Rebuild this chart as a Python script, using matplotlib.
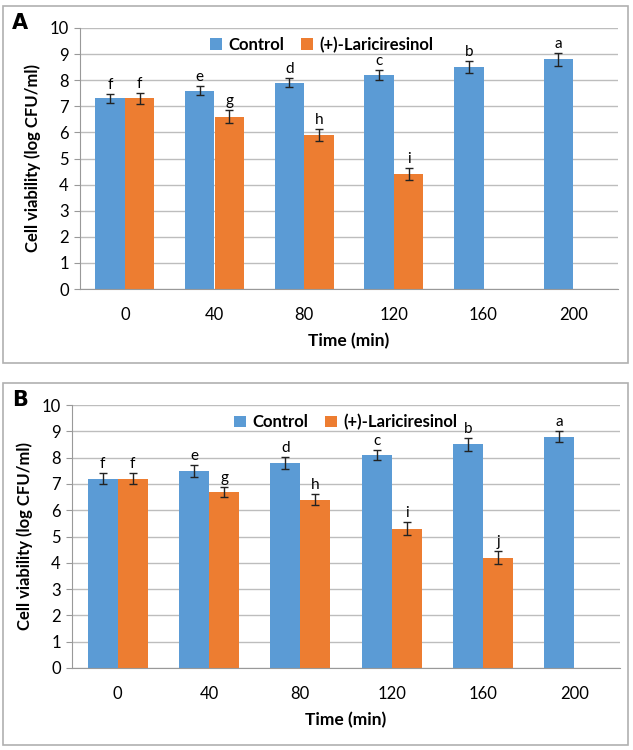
import matplotlib.pyplot as plt
import numpy as np
from matplotlib.patches import Rectangle

times = ['0', '40', '80', '120', '160', '200']

ctrl_a = [7.3, 7.6, 7.9, 8.2, 8.5, 8.8]
ctrl_a_err = [0.18, 0.18, 0.17, 0.2, 0.22, 0.25]
lari_a = [7.3, 6.6, 5.9, 4.4, np.nan, np.nan]
lari_a_err = [0.22, 0.25, 0.22, 0.22, np.nan, np.nan]
ctrl_a_let = ['f', 'e', 'd', 'c', 'b', 'a']
lari_a_let = ['f', 'g', 'h', 'i', '', '']

ctrl_b = [7.2, 7.5, 7.8, 8.1, 8.5, 8.8]
ctrl_b_err = [0.2, 0.22, 0.22, 0.18, 0.25, 0.2]
lari_b = [7.2, 6.7, 6.4, 5.3, 4.2, np.nan]
lari_b_err = [0.2, 0.18, 0.2, 0.25, 0.25, np.nan]
ctrl_b_let = ['f', 'e', 'd', 'c', 'b', 'a']
lari_b_let = ['f', 'g', 'h', 'i', 'j', '']

BLUE = '#5B9BD5'
ORANGE = '#ED7D31'
FONT = ['Lato', 'DejaVu Sans']
plt.rcParams['font.family'] = FONT

W, H = 633, 750
fig = plt.figure(figsize=(W / 100, H / 100), dpi=100)


def px(x0, y0, x1, y1):
    return [x0 / W, 1 - y1 / H, (x1 - x0) / W, (y1 - y0) / H]


def panel(rect_px, ax_px, tag, ctrl, ctrl_err, lari, lari_err, cl, ll, leg_anchor):
    r = px(*rect_px)
    fig.patches.append(Rectangle((r[0], r[1]), r[2], r[3], transform=fig.transFigure,
                                 fill=False, edgecolor='#b0b0b0', linewidth=1.2))
    fig.text(r[0] + 9 / W, r[1] + r[3] - 7 / H, tag, fontsize=15, fontweight='bold',
             va='top', ha='left', family='DejaVu Sans')
    ax = fig.add_axes(px(*ax_px))
    x = np.arange(len(times))
    w = 0.33
    ax.bar(x - w / 2, ctrl, w, color=BLUE, label='Control', zorder=2)
    ax.bar(x + w / 2, lari, w, color=ORANGE, label='(+)-Lariciresinol', zorder=2)
    ax.errorbar(x - w / 2, ctrl, yerr=ctrl_err, fmt='none', ecolor='#222222',
                elinewidth=1, capsize=3, capthick=1, zorder=3)
    ax.errorbar(x + w / 2, lari, yerr=lari_err, fmt='none', ecolor='#222222',
                elinewidth=1, capsize=3, capthick=1, zorder=3)
    for i in range(len(times)):
        ax.text(x[i] - w / 2, ctrl[i] + ctrl_err[i] + 0.08, cl[i], ha='center',
                va='bottom', fontsize=11)
        if ll[i]:
            ax.text(x[i] + w / 2, lari[i] + lari_err[i] + 0.08, ll[i], ha='center',
                    va='bottom', fontsize=11)
    ax.set_xlim(-0.5, len(times) - 0.5)
    ax.set_ylim(0, 10)
    ax.set_yticks(range(0, 11))
    ax.set_xticks(x)
    ax.set_xticklabels(times)
    ax.tick_params(axis='x', length=0, pad=13, labelsize=12)
    ax.tick_params(axis='y', length=4, color='#999999', labelsize=12, pad=4)
    ax.yaxis.grid(True, color='#bdbdbd', linewidth=1, zorder=0)
    ax.set_axisbelow(True)
    for s in ['top', 'right']:
        ax.spines[s].set_visible(False)
    ax.spines['left'].set_color('#999999')
    ax.spines['bottom'].set_color('#999999')
    ax.set_xlabel('Time (min)', fontsize=12.5, fontweight='bold', labelpad=7)
    ax.set_ylabel('Cell viability (log CFU/ml)', fontsize=12, fontweight='bold', labelpad=6)
    ax.legend(loc='center', bbox_to_anchor=leg_anchor, ncol=2, frameon=False,
              prop={'weight': 'bold', 'size': 12, 'family': FONT},
              handlelength=0.7, handleheight=0.7, handletextpad=0.4,
              columnspacing=1.0)
    return ax


panel((3, 6, 628, 363), (80, 28, 618, 289), 'A', ctrl_a, ctrl_a_err, lari_a, lari_a_err,
      ctrl_a_let, lari_a_let, (0.45, 0.935))
panel((3, 383, 628, 745), (72, 405, 620, 668), 'B', ctrl_b, ctrl_b_err, lari_b, lari_b_err,
      ctrl_b_let, lari_b_let, (0.5, 0.935))

plt.savefig('out.png', dpi=100)
